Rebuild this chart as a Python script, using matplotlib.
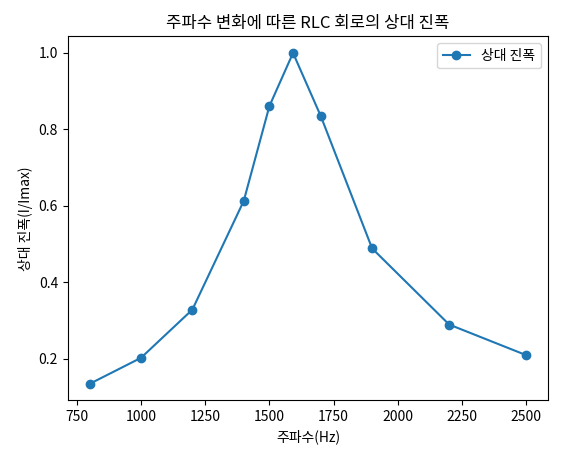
import matplotlib
matplotlib.use("Agg")
import matplotlib.pyplot as plt

plt.rcParams["font.family"] = ["Noto Sans CJK KR", "DejaVu Sans"]
plt.rcParams["axes.unicode_minus"] = False

freq = [800, 1000, 1200, 1400, 1500, 1592, 1700, 1900, 2200, 2500]
amp = [0.135, 0.203, 0.329, 0.613, 0.861, 1.0, 0.835, 0.489, 0.290, 0.210]

fig, ax = plt.subplots(figsize=(5.65, 4.55), dpi=100)
ax.plot(freq, amp, "-o", color="#1f77b4", label="상대 진폭")
ax.set_xlabel("주파수(Hz)")
ax.set_ylabel("상대 진폭(I/Imax)")
ax.set_title("주파수 변화에 따른 RLC 회로의 상대 진폭")
ax.legend(loc="upper right")
fig.subplots_adjust(left=0.12, right=0.97, bottom=0.12, top=0.92)
fig.savefig("out.png")
